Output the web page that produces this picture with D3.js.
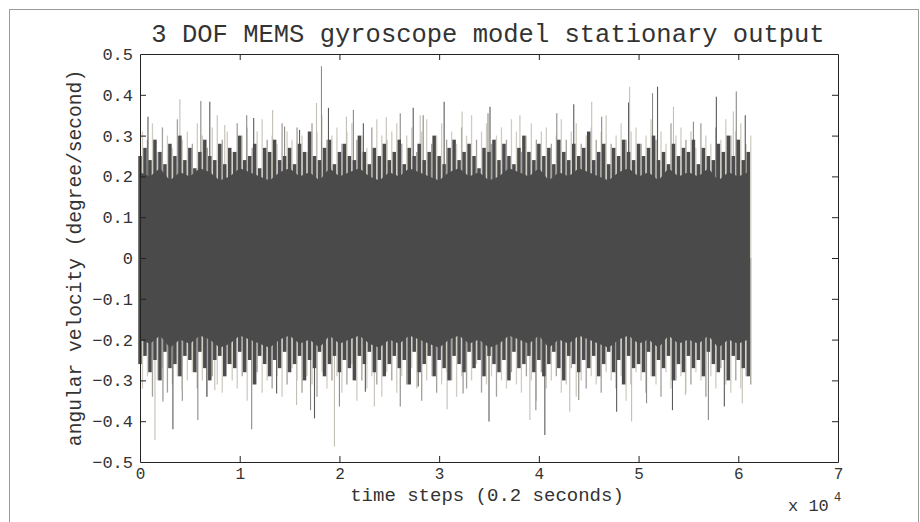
<!DOCTYPE html>
<html>
<head>
<meta charset="utf-8">
<script src="https://cdn.jsdelivr.net/npm/d3@7"></script>
<style>
  body { margin: 0; background: #fff; }
  text { font-family: "Liberation Mono", "DejaVu Sans Mono", monospace; fill: #333; }
</style>
</head>
<body>
<div id="chart"></div>
<script>
// time axis is in units of 1e4 steps; the trace runs from 0 to 6.1
const xTicks = [0, 1, 2, 3, 4, 5, 6, 7];
const yTicks = [-0.5, -0.4, -0.3, -0.2, -0.1, 0, 0.1, 0.2, 0.3, 0.4, 0.5];

// solid core of the trace, one value every 0.1 (1000 steps)
const coreUpper = [0.21,0.20,0.22,0.19,0.21,0.20,0.22,0.21,0.19,0.20,0.22,0.21,0.20,0.19,0.21,0.22,0.20,0.21,0.19,0.22,
  0.20,0.21,0.22,0.20,0.19,0.21,0.20,0.22,0.21,0.20,0.19,0.21,0.22,0.20,0.21,0.19,0.20,0.22,0.21,0.20,
  0.22,0.19,0.21,0.20,0.22,0.21,0.20,0.19,0.21,0.22,0.20,0.21,0.19,0.22,0.20,0.21,0.20,0.22,0.19,0.21,0.20,0.21];
const coreLower = [-0.20,-0.21,-0.19,-0.22,-0.20,-0.21,-0.19,-0.20,-0.22,-0.21,-0.19,-0.20,-0.21,-0.22,-0.20,-0.19,-0.21,-0.20,-0.22,-0.19,
  -0.21,-0.20,-0.19,-0.21,-0.22,-0.20,-0.21,-0.19,-0.20,-0.21,-0.22,-0.20,-0.19,-0.21,-0.20,-0.22,-0.21,-0.19,-0.20,-0.21,
  -0.19,-0.22,-0.20,-0.21,-0.19,-0.20,-0.21,-0.22,-0.20,-0.19,-0.21,-0.20,-0.22,-0.19,-0.21,-0.20,-0.21,-0.19,-0.22,-0.20,-0.21,-0.20];

// fringe peaks, one value every 0.05 (500 steps), 123 values each
const upperDark = [
  0.25,0.27,0.24,0.29,0.26,0.23,0.28,0.25,0.30,0.24,
  0.27,0.22,0.26,0.29,0.25,0.24,0.28,0.23,0.27,0.26,
  0.30,0.24,0.25,0.28,0.22,0.27,0.26,0.29,0.24,0.25,
  0.27,0.23,0.28,0.26,0.31,0.25,0.24,0.27,0.29,0.23,
  0.26,0.28,0.25,0.24,0.30,0.26,0.23,0.27,0.25,0.28,
  0.24,0.26,0.29,0.23,0.27,0.25,0.28,0.24,0.26,0.30,
  0.25,0.23,0.27,0.29,0.24,0.26,0.28,0.25,0.22,0.27,
  0.26,0.29,0.24,0.28,0.25,0.23,0.27,0.30,0.26,0.24,
  0.28,0.25,0.27,0.23,0.29,0.26,0.24,0.28,0.25,0.27,
  0.31,0.24,0.26,0.28,0.23,0.27,0.25,0.29,0.26,0.24,
  0.28,0.25,0.27,0.30,0.24,0.26,0.23,0.28,0.25,0.27,
  0.26,0.29,0.23,0.27,0.25,0.24,0.28,0.26,0.30,0.25,
  0.29,0.24,0.26];
const upperLight = [
  0.31,0.29,0.33,0.26,0.32,0.30,0.27,0.34,0.29,0.31,
  0.28,0.33,0.30,0.27,0.32,0.35,0.29,0.31,0.26,0.33,
  0.30,0.32,0.27,0.31,0.34,0.29,0.30,0.28,0.33,0.31,
  0.29,0.32,0.30,0.26,0.33,0.31,0.35,0.29,0.30,0.32,
  0.28,0.31,0.33,0.29,0.30,0.27,0.32,0.34,0.30,0.29,
  0.31,0.33,0.28,0.30,0.32,0.26,0.31,0.34,0.28,0.30,
  0.33,0.29,0.31,0.28,0.32,0.30,0.35,0.29,0.31,0.33,
  0.28,0.30,0.32,0.29,0.34,0.31,0.26,0.30,0.33,0.29,
  0.31,0.32,0.28,0.30,0.34,0.29,0.31,0.33,0.28,0.30,
  0.32,0.29,0.31,0.35,0.28,0.30,0.33,0.29,0.31,0.32,
  0.28,0.30,0.34,0.29,0.31,0.28,0.33,0.30,0.32,0.29,
  0.31,0.27,0.33,0.30,0.28,0.32,0.29,0.34,0.30,0.31,
  0.33,0.28,0.30];
const lowerDark = [
  -0.26,-0.24,-0.28,-0.25,-0.30,-0.23,-0.27,-0.26,-0.29,-0.24,
  -0.25,-0.28,-0.23,-0.27,-0.30,-0.25,-0.24,-0.29,-0.26,-0.27,
  -0.23,-0.28,-0.25,-0.31,-0.24,-0.26,-0.29,-0.25,-0.27,-0.23,
  -0.28,-0.26,-0.24,-0.30,-0.25,-0.27,-0.23,-0.29,-0.26,-0.24,
  -0.28,-0.25,-0.27,-0.30,-0.24,-0.26,-0.23,-0.28,-0.25,-0.29,
  -0.26,-0.24,-0.27,-0.25,-0.31,-0.23,-0.28,-0.26,-0.24,-0.29,
  -0.25,-0.27,-0.30,-0.24,-0.26,-0.28,-0.23,-0.27,-0.25,-0.29,
  -0.24,-0.26,-0.28,-0.25,-0.30,-0.23,-0.27,-0.26,-0.24,-0.28,
  -0.25,-0.29,-0.26,-0.23,-0.27,-0.30,-0.24,-0.26,-0.28,-0.25,
  -0.27,-0.24,-0.29,-0.26,-0.23,-0.28,-0.25,-0.31,-0.24,-0.27,
  -0.26,-0.28,-0.23,-0.29,-0.25,-0.27,-0.24,-0.30,-0.26,-0.28,
  -0.24,-0.27,-0.25,-0.29,-0.23,-0.26,-0.28,-0.25,-0.30,-0.24,
  -0.25,-0.27,-0.29];
const lowerLight = [
  -0.32,-0.29,-0.34,-0.30,-0.27,-0.33,-0.31,-0.29,-0.35,-0.30,
  -0.28,-0.32,-0.30,-0.34,-0.29,-0.31,-0.33,-0.26,-0.30,-0.32,
  -0.29,-0.35,-0.31,-0.28,-0.33,-0.30,-0.32,-0.29,-0.34,-0.31,
  -0.27,-0.30,-0.33,-0.29,-0.31,-0.34,-0.28,-0.32,-0.30,-0.29,
  -0.33,-0.31,-0.26,-0.35,-0.30,-0.32,-0.29,-0.31,-0.34,-0.28,
  -0.30,-0.33,-0.29,-0.31,-0.27,-0.32,-0.35,-0.30,-0.29,-0.33,
  -0.31,-0.28,-0.30,-0.34,-0.29,-0.32,-0.30,-0.26,-0.33,-0.31,
  -0.29,-0.34,-0.30,-0.32,-0.28,-0.31,-0.33,-0.29,-0.30,-0.35,
  -0.28,-0.32,-0.30,-0.29,-0.33,-0.31,-0.27,-0.34,-0.30,-0.32,
  -0.29,-0.31,-0.33,-0.28,-0.30,-0.32,-0.29,-0.35,-0.31,-0.28,
  -0.30,-0.33,-0.29,-0.31,-0.34,-0.28,-0.32,-0.30,-0.29,-0.33,
  -0.31,-0.28,-0.30,-0.34,-0.29,-0.32,-0.27,-0.31,-0.33,-0.30,
  -0.32,-0.29,-0.31];

// tall isolated spikes (time in 1e4 steps, value)
const spikeUpT = [0.08,0.40,0.61,0.70,0.85,1.07,1.14,1.33,1.45,1.60,1.77,1.82,1.89,2.07,2.14,2.24,2.47,2.61,2.74,2.81,
  2.84,3.05,3.23,3.49,3.51,3.81,4.18,4.35,4.53,4.63,4.90,4.91,5.14,5.19,5.35,5.55,5.78,5.95,5.98,6.07];
const spikeUpV = [0.346,0.389,0.385,0.383,0.326,0.350,0.343,0.363,0.322,0.314,0.380,0.470,0.368,0.346,0.363,0.330,0.345,0.355,0.368,0.350,
  0.350,0.383,0.359,0.355,0.371,0.350,0.355,0.377,0.383,0.346,0.381,0.420,0.404,0.420,0.371,0.334,0.395,0.359,0.408,0.350];
const spikeDownT = [0.15,0.23,0.33,0.42,0.58,0.67,0.75,1.12,1.37,1.57,1.71,1.75,1.95,2.00,2.26,2.35,2.61,2.79,
  3.08,3.24,3.50,3.91,3.97,4.06,4.31,4.40,4.78,4.93,5.08,5.34,5.47,5.70,5.86,6.04];
const spikeDownV = [-0.446,-0.352,-0.420,-0.324,-0.397,-0.340,-0.324,-0.420,-0.332,-0.360,-0.373,-0.393,-0.462,-0.364,-0.328,-0.364,-0.364,-0.315,
  -0.371,-0.332,-0.401,-0.397,-0.373,-0.434,-0.377,-0.348,-0.377,-0.401,-0.356,-0.373,-0.336,-0.397,-0.364,-0.356];

const W = 920, H = 522;
const margin = { top: 54, right: 82, bottom: 60, left: 140 };
const width = W - margin.left - margin.right;
const height = H - margin.top - margin.bottom;

const svg = d3.select("#chart").append("svg")
    .attr("width", W)
    .attr("height", H);

// outer figure frame
svg.append("rect")
    .attr("x", 9.5).attr("y", 9.5)
    .attr("width", 909).attr("height", 520)
    .attr("fill", "none")
    .attr("stroke", "#9a9a9a");

const g = svg.append("g")
    .attr("transform", `translate(${margin.left},${margin.top})`);

const x = d3.scaleLinear().domain([0, 7]).range([0, width]);
const y = d3.scaleLinear().domain([-0.5, 0.5]).range([height, 0]);

const plot = g.append("g");

// light fringe, offset half a step
plot.selectAll(".ul").data(upperLight).enter().append("line")
    .attr("x1", (d, i) => x(i * 0.05 + 0.025)).attr("x2", (d, i) => x(i * 0.05 + 0.025))
    .attr("y1", y(0)).attr("y2", d => y(d))
    .attr("stroke", (d, i) => i % 3 === 1 ? "#a3a19c" : "#d0ccc3")
    .attr("stroke-width", 1.3);
plot.selectAll(".ll").data(lowerLight).enter().append("line")
    .attr("x1", (d, i) => x(i * 0.05 + 0.025)).attr("x2", (d, i) => x(i * 0.05 + 0.025))
    .attr("y1", y(0)).attr("y2", d => y(d))
    .attr("stroke", (d, i) => i % 3 === 2 ? "#a3a19c" : "#d0ccc3")
    .attr("stroke-width", 1.3);

// tall spikes
const spikeColor = i => ["#5a5a5a", "#c4bfb5", "#8c8a86"][i % 3];
plot.selectAll(".sup").data(spikeUpT).enter().append("line")
    .attr("x1", d => x(d)).attr("x2", d => x(d))
    .attr("y1", y(0)).attr("y2", (d, i) => y(spikeUpV[i]))
    .attr("stroke", (d, i) => spikeColor(i))
    .attr("stroke-width", 1.1);
plot.selectAll(".sdn").data(spikeDownT).enter().append("line")
    .attr("x1", d => x(d)).attr("x2", d => x(d))
    .attr("y1", y(0)).attr("y2", (d, i) => y(spikeDownV[i]))
    .attr("stroke", (d, i) => spikeColor(i + 1))
    .attr("stroke-width", 1.1);

// dark fringe
plot.selectAll(".ud").data(upperDark).enter().append("line")
    .attr("x1", (d, i) => x(i * 0.05)).attr("x2", (d, i) => x(i * 0.05))
    .attr("y1", y(0)).attr("y2", d => y(d))
    .attr("stroke", "#4c4c4c")
    .attr("stroke-width", 3.5);
plot.selectAll(".ld").data(lowerDark).enter().append("line")
    .attr("x1", (d, i) => x(i * 0.05)).attr("x2", (d, i) => x(i * 0.05))
    .attr("y1", y(0)).attr("y2", d => y(d))
    .attr("stroke", "#4c4c4c")
    .attr("stroke-width", 3.5);

// solid core
const area = d3.area()
    .x((d, i) => x(Math.min(i * 0.1, 6.1)))
    .y0((d, i) => y(coreLower[i]))
    .y1(d => y(d));
plot.append("path")
    .datum(coreUpper)
    .attr("d", area)
    .attr("fill", "#4a4a4a");

// axes, MATLAB style: box with inward ticks
const axisColor = "#222";
const xb = g.append("g").attr("transform", `translate(0,${height})`)
    .call(d3.axisBottom(x).tickValues(xTicks).tickFormat(d3.format("d")).tickSizeInner(-6).tickSizeOuter(0).tickPadding(6));
const xt = g.append("g")
    .call(d3.axisTop(x).tickValues(xTicks).tickFormat("").tickSizeInner(-6).tickSizeOuter(0));
const yl = g.append("g")
    .call(d3.axisLeft(y).tickValues(yTicks).tickFormat(d => d === 0 ? "0" : d3.format(".1f")(d)).tickSizeInner(-6).tickSizeOuter(0).tickPadding(7));
const yr = g.append("g").attr("transform", `translate(${width},0)`)
    .call(d3.axisRight(y).tickValues(yTicks).tickFormat("").tickSizeInner(-6).tickSizeOuter(0));

[xb, xt, yl, yr].forEach(a => {
    a.select(".domain").attr("stroke", axisColor);
    a.selectAll(".tick line").attr("stroke", axisColor);
    a.selectAll("text")
        .style("font-family", "'Liberation Mono', monospace")
        .attr("fill", "#333");
});
xb.selectAll("text").style("font-size", "16px");
yl.selectAll("text").style("font-size", "17px");
// drop end ticks that fall on the box edges
xb.selectAll(".tick line").filter(d => d === 0 || d === 7).remove();
xt.selectAll(".tick line").filter(d => d === 0 || d === 7).remove();
yl.selectAll(".tick line").filter(d => d === -0.5 || d === 0.5).remove();
yr.selectAll(".tick line").filter(d => d === -0.5 || d === 0.5).remove();

// exponent note
g.append("text")
    .attr("x", 648).attr("y", 457)
    .style("font-size", "17px")
    .text("x 10");
g.append("text")
    .attr("x", 694).attr("y", 447)
    .style("font-size", "12px")
    .text("4");

// title
svg.append("text")
    .attr("x", 488).attr("y", 42)
    .attr("text-anchor", "middle")
    .style("font-size", "25.5px")
    .attr("fill", "#111")
    .text("3 DOF MEMS gyroscope model stationary output");

// axis labels
svg.append("text")
    .attr("x", 487).attr("y", 500.5)
    .attr("text-anchor", "middle")
    .style("font-size", "19px")
    .text("time steps (0.2 seconds)");

svg.append("text")
    .attr("transform", "rotate(-90)")
    .attr("x", -258).attr("y", 81)
    .attr("text-anchor", "middle")
    .style("font-size", "19.6px")
    .text("angular velocity (degree/second)");
</script>
</body>
</html>
